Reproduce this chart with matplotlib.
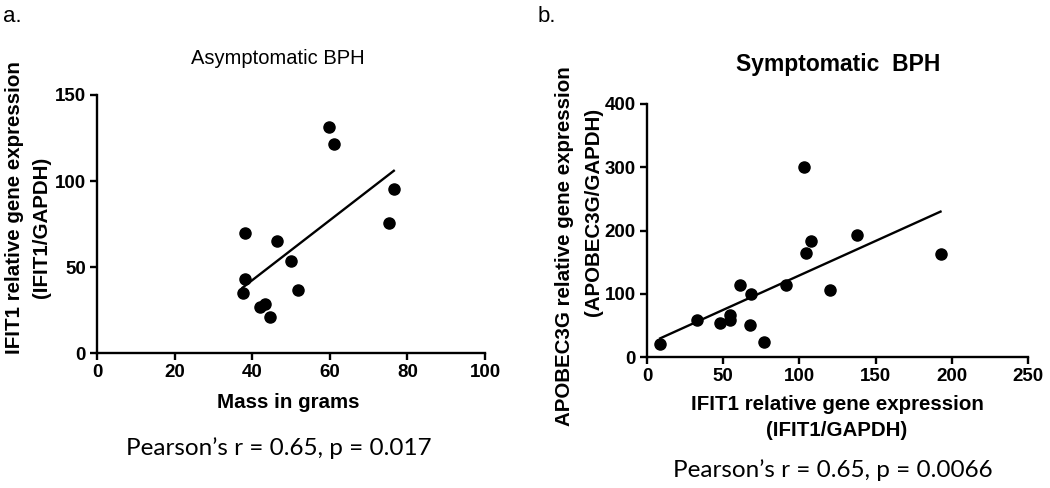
import numpy as np
import matplotlib
matplotlib.use("Agg")
import matplotlib.pyplot as plt

# Panel a: asymptomatic BPH, prostate mass vs IFIT1 expression
mass_g = [59.9, 61.2, 76.5, 75.2, 38.2, 46.4, 50.1, 38.2, 37.5, 51.8, 42.1, 43.2, 44.5]
ifit1_a = [131.2, 121.5, 95.2, 75.4, 69.6, 65.1, 53.7, 42.8, 35.1, 36.6, 27.0, 28.5, 20.8]

# Panel b: symptomatic BPH, IFIT1 vs APOBEC3G expression
ifit1_b = [8.7, 33.0, 47.7, 54.2, 54.6, 61.2, 68.4, 67.8, 76.7, 90.9,
           103.0, 104.5, 107.8, 120.2, 137.7, 192.6]
apobec3g = [20.0, 58.0, 53.8, 58.0, 67.0, 114.5, 100.3, 50.1, 23.7, 114.5,
            299.7, 164.6, 183.1, 106.6, 192.6, 162.5]

ticks_a_x = [0, 20, 40, 60, 80, 100]
ticks_a_y = [0, 50, 100, 150]
ticks_b_x = [0, 50, 100, 150, 200, 250]
ticks_b_y = [0, 100, 200, 300, 400]

plt.rcParams['font.family'] = ['Liberation Sans', 'DejaVu Sans']
plt.rcParams['font.weight'] = 'bold'

fig = plt.figure(figsize=(10.5, 4.88), dpi=100)
W, H = 1050, 488


def px_axes(l, t, r, b):
    return fig.add_axes([l / W, 1 - b / H, (r - l) / W, (b - t) / H])


def style(ax, xt, yt):
    for s in ['top', 'right']:
        ax.spines[s].set_visible(False)
    for s in ['left', 'bottom']:
        ax.spines[s].set_linewidth(1.7)
    ax.set_xticks(xt)
    ax.set_yticks(yt)
    ax.set_xlim(xt[0], xt[-1])
    ax.set_ylim(yt[0], yt[-1])
    ax.tick_params(length=5, width=1.7, pad=3, labelsize=13.5)


def scatter_fit(ax, x, y):
    x = np.array(x)
    y = np.array(y)
    ax.plot(x, y, 'o', color='black', ms=8, clip_on=False)
    k, c = np.polyfit(x, y, 1)
    xs = np.array([x.min(), x.max()])
    ax.plot(xs, k * xs + c, color='black', lw=1.7)


def txt(x, y, s, **kw):
    kw.setdefault('ha', 'center')
    kw.setdefault('va', 'center')
    return fig.text(x / W, 1 - y / H, s, **kw)


ax1 = px_axes(97, 95, 485, 353)
scatter_fit(ax1, mass_g, ifit1_a)
style(ax1, ticks_a_x, ticks_a_y)

ax2 = px_axes(647, 104, 1028, 357)
scatter_fit(ax2, ifit1_b, apobec3g)
style(ax2, ticks_b_x, ticks_b_y)

# panel letters and titles
txt(3, 16, 'a.', fontsize=16, ha='left', fontweight='normal')
txt(538, 16, 'b.', fontsize=16, ha='left', fontweight='normal')
txt(278, 58, 'Asymptomatic BPH', fontsize=14.5, fontweight='normal')
txt(838, 64, 'Symptomatic  BPH', fontsize=16.5, fontweight='bold')

# axis labels
lab = dict(fontsize=14.8, fontweight='bold')
txt(15, 208, 'IFIT1 relative gene expression', rotation=90, **lab)
txt(42, 227, '(IFIT1/GAPDH)', rotation=90, **lab)
txt(564, 246, 'APOBEC3G relative gene expression', rotation=90, **lab)
txt(594, 212, '(APOBEC3G/GAPDH)', rotation=90, **lab)
txt(288, 402, 'Mass in grams', **lab)
txt(837, 405, 'IFIT1 relative gene expression', **lab)
txt(837, 430, '(IFIT1/GAPDH)', **lab)

# correlation statistics
stat = dict(fontsize=17.5, family=['Lato', 'DejaVu Sans'], fontweight='normal')
txt(279, 448, 'Pearson\u2019s r = 0.65, p = 0.017', **stat)
txt(833, 470, 'Pearson\u2019s r = 0.65, p = 0.0066', **stat)

fig.savefig('out.png', dpi=100, facecolor='white')
